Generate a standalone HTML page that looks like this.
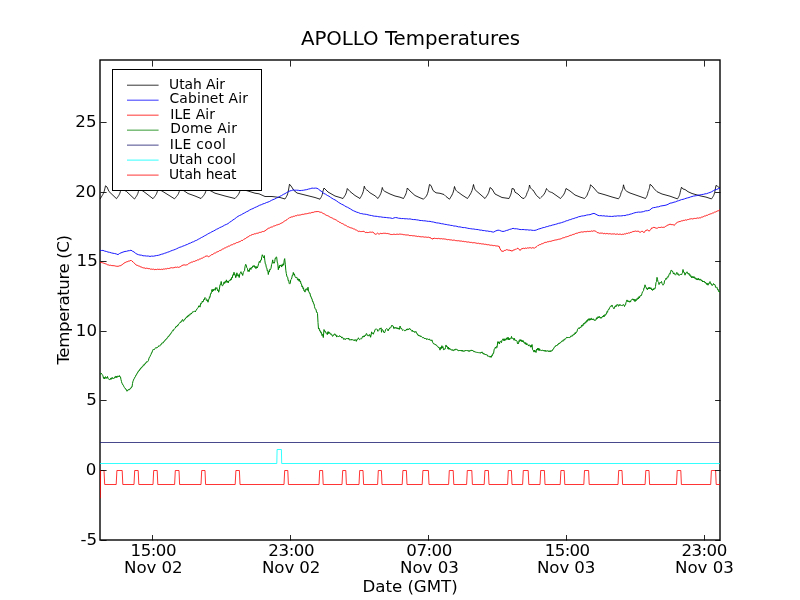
<!DOCTYPE html>
<html><head><meta charset="utf-8"><title>APOLLO Temperatures</title>
<style>html,body{margin:0;padding:0;background:#fff;width:800px;height:600px;overflow:hidden}svg{display:block}</style>
</head><body>
<svg width="800" height="600" viewBox="0 0 800 600">
<rect x="0" y="0" width="800" height="600" fill="#ffffff"/>
<defs><clipPath id="ax"><rect x="100" y="60" width="620" height="480"/></clipPath></defs>
<rect x="100" y="60" width="620" height="480" fill="none" stroke="#000" stroke-width="1.39"/>
<g clip-path="url(#ax)" fill="none" stroke-width="0.8" stroke-linejoin="round" stroke-linecap="butt">
<polyline stroke="#000000" stroke-width="0.85" points="100,199 100.69,197.94 101.38,196.89 102.06,195.77 102.75,194.64 103.44,193.24 104.12,191.52 104.81,188.94 105.5,185.8 107,187 109,191.5 116.5,198.7 117.06,197.92 117.62,197.15 118.19,196.32 118.75,195.5 119.31,194.47 119.88,193.2 120.44,191.3 121,189 124,190 126.5,191.5 134.5,199 135.06,198.2 135.62,197.4 136.19,196.55 136.75,195.7 137.31,194.64 137.88,193.33 138.44,191.38 139,189 143,191 153,198.7 153.62,197.92 154.25,197.15 154.88,196.32 155.5,195.5 156.12,194.47 156.75,193.2 157.38,191.3 158,189 162,191 174.5,198.8 175.19,198.02 175.88,197.23 176.56,196.4 177.25,195.57 177.94,194.52 178.62,193.25 179.31,191.33 180,189 184,190.8 188,193.5 195,196 201,198.5 201.69,197.74 202.38,196.98 203.06,196.17 203.75,195.37 204.44,194.36 205.12,193.12 205.81,191.26 206.5,189 211,191 215,193.2 225,196 235,198.5 235.69,197.74 236.38,196.98 237.06,196.17 237.75,195.37 238.44,194.36 239.12,193.12 239.81,191.26 240.5,189 248,191 255,193.2 259,193.8 265,196.5 272,196.5 280,197.5 285,199 285.44,198.28 285.88,197.56 286.31,196.79 286.75,196.03 287.19,195.07 287.62,193.9 288.06,192.14 288.5,190 289.5,184.2 291,186 294,190.5 297,193 305,195 315,197.5 320,199.2 320.38,198.54 320.75,197.89 321.12,197.19 321.5,196.49 321.88,195.62 322.25,194.55 322.62,192.95 323,191 324,188 328,192 335,196 340,197.5 343,198.5 343.54,197.7 344.07,196.9 344.61,196.05 345.15,195.2 345.69,194.14 346.23,192.83 346.76,190.88 347.3,188.5 350,191.5 355,195.5 360,198.5 360.54,197.52 361.07,196.53 361.61,195.49 362.15,194.44 362.69,193.13 363.23,191.53 363.76,189.12 364.3,186.2 364.64,187.23 364.98,188.01 365.31,188.6 365.65,189.05 365.99,189.39 366.32,189.65 366.66,189.85 367,190 370,192.8 375,195.8 378,198.5 378.54,197.62 379.07,196.74 379.61,195.81 380.15,194.87 380.69,193.7 381.23,192.27 381.76,190.11 382.3,187.5 382.64,188.58 382.98,189.4 383.31,190.03 383.65,190.5 383.99,190.86 384.32,191.13 384.66,191.34 385,191.5 390,194 395,196 400,197.2 403.5,198.5 403.98,197.66 404.45,196.82 404.93,195.93 405.4,195.03 405.88,193.92 406.35,192.55 406.82,190.49 407.3,188 410,191 415,195.5 420,197.8 423.5,199.2 424.06,198.62 424.62,198.05 425.19,197.44 425.75,196.82 426.31,196.06 426.88,195.12 427.44,193.71 428,192 429.5,184.5 431,185.5 433,190.5 436,192.8 440,193.3 444,194.5 446,196.5 449.5,199.2 450.12,198.18 450.75,197.17 451.38,196.09 452,195.01 452.62,193.66 453.25,192 453.88,189.52 454.5,186.5 454.94,187.99 455.38,189.12 455.81,189.97 456.25,190.63 456.69,191.12 457.12,191.5 457.56,191.78 458,192 462,195 467.5,198.5 468.25,197.38 469,196.26 469.75,195.07 470.5,193.88 471.25,192.39 472,190.57 472.75,187.82 473.5,184.5 473.94,186.39 474.38,187.83 474.81,188.92 475.25,189.75 475.69,190.38 476.12,190.86 476.56,191.22 477,191.5 481,195 485,198.5 485.62,197.62 486.25,196.74 486.88,195.81 487.5,194.87 488.12,193.7 488.75,192.27 489.38,190.11 490,187.5 492,189 495,194 502,197.5 509,198.5 509.38,197.7 509.75,196.9 510.12,196.05 510.5,195.2 510.88,194.14 511.25,192.83 511.62,190.88 512,188.5 514,189 515,192.2 518,194 522,198 524,198.5 524.38,198.06 524.75,197.62 525.12,197.15 525.5,196.69 525.88,196.1 526.25,195.38 526.62,194.31 527,193 527.31,192.36 527.62,191.72 527.94,191.04 528.25,190.36 528.56,189.51 528.88,188.47 529.19,186.9 529.5,185 529.94,186.35 530.38,187.38 530.81,188.16 531.25,188.75 531.69,189.2 532.12,189.54 532.56,189.8 533,190 536.5,195.5 540,198.5 540.81,197.7 541.62,196.9 542.44,196.05 543.25,195.2 544.06,194.14 544.88,192.83 545.69,190.88 546.5,188.5 547.19,189.58 547.88,190.4 548.56,191.03 549.25,191.5 549.94,191.86 550.62,192.13 551.31,192.34 552,192.5 557,196 560.5,198.5 561.19,197.7 561.88,196.9 562.56,196.05 563.25,195.2 563.94,194.14 564.62,192.83 565.31,190.88 566,188.5 570,191 575,195 580,197 584.5,198.5 584.94,198.02 585.38,197.54 585.81,197.03 586.25,196.52 586.69,195.88 587.12,195.1 587.56,193.93 588,192.5 588.31,191.88 588.62,191.27 588.94,190.61 589.25,189.96 589.56,189.14 589.88,188.14 590.19,186.63 590.5,184.8 593,187 598,192.8 605,194.8 612,197 618.5,198.8 618.81,198.34 619.12,197.87 619.44,197.38 619.75,196.89 620.06,196.27 620.38,195.51 620.69,194.38 621,193 621.31,192.34 621.62,191.69 621.94,190.99 622.25,190.29 622.56,189.42 622.88,188.35 623.19,186.75 623.5,184.8 623.94,186.61 624.38,187.99 624.81,189.03 625.25,189.83 625.69,190.43 626.12,190.89 626.56,191.24 627,191.5 630,193 640,196.5 645.5,198.5 645.81,197.98 646.12,197.46 646.44,196.91 646.75,196.35 647.06,195.66 647.38,194.82 647.69,193.54 648,192 648.25,191.38 648.5,190.77 648.75,190.11 649,189.46 649.25,188.64 649.5,187.64 649.75,186.13 650,184.3 652,185.9 654,188.6 657,191.7 662,194 670,196.2 677.5,198.9 677.88,198.25 678.25,197.6 678.62,196.92 679,196.23 679.38,195.37 679.75,194.31 680.12,192.72 680.5,190.8 681.5,187.2 683,189 685,189.5 688,191.7 692,193.5 700,195.8 706,197.1 711.5,198.9 711.94,198.25 712.38,197.6 712.81,196.92 713.25,196.23 713.69,195.37 714.12,194.31 714.56,192.72 715,190.8 716,185.4 717.5,186.3 720,188.3"/>
<polyline stroke="#0000ff" stroke-width="0.9" points="100,250.3 101.5,250.48 103,250.39 104.67,251.1 106.33,251.45 108,252.05 109.67,252.35 111.33,252.89 113,253.26 114.67,253.52 116.33,253.96 118,254.65 119.5,253.51 121,252.86 123,252.07 125,251.44 126.5,251.31 128,250.8 129.5,250.65 131,250.18 132.5,251.23 134,251.91 135.5,253.23 137,254.13 138.5,254.68 140,255.07 141.5,255.18 143,255.79 144.75,255.79 146.5,256.05 148.25,256.02 150,256.44 151.67,256.08 153.33,256.21 155,255.87 156.67,255.54 158.33,255.32 160,254.79 161.53,254.24 163.07,253.92 164.6,253.25 166.13,252.83 167.67,252.18 169.2,251.76 170.72,251 172.23,250.41 173.75,249.95 175.27,249.36 176.78,248.69 178.3,247.92 179.83,247.24 181.37,246.83 182.9,246.08 184.43,245.64 185.97,244.87 187.5,244.38 189.03,243.47 190.57,243.03 192.1,242.13 193.63,241.71 195.17,240.75 196.7,240.29 198.23,239.29 199.77,238.55 201.3,237.58 202.83,236.88 204.37,235.9 205.9,235.16 207.42,234.22 208.93,233.32 210.45,232.67 211.97,231.68 213.48,231.07 215,230.19 216.53,229.28 218.07,228.65 219.6,227.67 221.28,226.99 222.96,226.18 224.64,225.12 226.32,224.46 228,223.64 229.67,222.26 231.33,221.23 233,219.9 234.67,218.91 236.33,217.54 238,216.37 239.67,215.45 241.33,214.74 243,213.67 244.67,212.88 246.33,211.84 248,211.15 249.67,210.02 251.33,209.19 253,208.57 254.67,207.6 256.33,206.94 258,206.13 259.67,205.22 261.33,204.72 263,203.86 264.67,203.46 266.33,202.6 268,202.08 269.67,201.4 271.33,200.41 273,199.63 274.67,199.06 276.33,198.11 278,197.44 279.75,196.35 281.5,195.58 283.25,194.44 285,193.65 286.67,192.57 288.33,191.74 290,190.87 291.5,190.57 293,189.93 294.75,190.2 296.5,190.19 298.25,190.29 300,190.61 301.67,190.42 303.33,190.26 305,189.9 306.75,189.64 308.5,189.05 310.25,188.71 312,188.08 313.67,188.28 315.33,188.1 317,188.26 318.5,189.18 320,190.43 321.9,191.7 323.8,193.44 325.53,194.19 327.27,195.4 329,196.21 330.5,197.32 332,198.27 333.5,199.22 335,199.9 336.67,200.97 338.33,202.26 340,203.25 341.5,204.17 343,204.81 344.5,205.7 346,206.69 347.5,207.26 349,208.15 350.5,208.95 352,210.01 353.5,210.74 355,211.4 356.77,212.2 358.53,212.65 360.3,213.5 361.8,213.63 363.3,214.06 364.8,214.17 366.3,214.37 368.03,214.81 369.77,215.28 371.5,215.53 373,215.93 374.5,216.21 376,216.26 377.5,216.46 379,216.85 380.5,216.82 382,217.13 383.5,217.33 385,217.41 386.5,217.55 388,217.82 389.5,217.85 391,218.1 392.5,218.5 394,217.89 395.5,217.55 397,217.72 398.5,218.22 400,218.3 401.67,218.58 403.33,218.53 405,218.82 406.67,218.74 408.33,219.04 410,218.87 411.67,219.33 413.33,219.55 415,219.58 416.67,219.85 418.33,220.05 420,220.49 421.67,220.52 423.33,220.79 425,220.83 426.67,221.12 428.33,221.37 430,221.33 431.67,221.81 433.33,222.01 435,222.47 436.67,222.88 438.33,223 440,223.32 441.54,223.72 443.08,223.86 444.62,224.3 446.15,224.46 447.69,224.84 449.23,225.01 450.77,225.42 452.31,225.51 453.85,226.02 455.38,226.05 456.92,226.36 458.46,226.87 460,226.88 461.54,227.28 463.08,227.6 464.62,227.57 466.15,227.86 467.69,228.25 469.23,228.51 470.77,228.72 472.31,228.96 473.85,229.01 475.38,229.37 476.92,229.48 478.46,229.67 480,230.11 481.51,230.13 483.02,230.57 484.53,230.57 486.04,231 487.56,230.99 489.07,231.39 490.58,231.43 492.09,231.9 493.6,232.1 495.8,230.9 498,230.13 499.67,230.42 501.33,231.13 503,231.48 504.67,231.17 506.33,230.48 508,230.12 509.67,229.35 511.33,229.03 513,228.31 514.75,228.79 516.5,228.75 518.25,229.1 520,229.53 521.5,229.59 523,229.53 524.5,229.63 526,229.86 527.5,229.75 529,230.13 530.5,229.96 532,230.27 533.5,230.4 535,230.35 536.67,229.89 538.33,229.14 540,228.68 541.54,228.21 543.08,227.61 544.62,227.45 546.15,226.74 547.69,226.53 549.23,225.87 550.77,225.67 552.31,225.08 553.85,224.78 555.38,224.37 556.92,223.93 558.46,223.33 560,223.08 561.54,222.63 563.08,222.1 564.62,221.62 566.15,220.85 567.69,220.58 569.23,219.83 570.77,219.52 572.31,218.8 573.85,218.53 575.38,217.85 576.92,217.56 578.46,216.79 580,216.5 581.67,216.04 583.33,215.87 585,215.6 586.67,215.06 588.33,214.81 590,214.67 592,213.87 594,213.37 596,214.3 598,215.38 599.5,215.7 601,215.64 602.5,215.89 604,215.8 605.5,216.16 607,216.04 608.5,216.36 610,216.31 611.5,216.46 613,216.36 614.5,216.08 616,216.18 617.5,215.84 619,215.95 620.5,215.9 622,215.83 623.5,215.53 625,215.6 626.67,214.96 628.33,214.81 630,214.21 631.67,213.85 633.35,213.23 635.03,212.69 636.7,212.36 638.47,212.09 640.23,212.16 642,211.9 643.65,211.59 645.3,210.89 647.5,210.73 649.7,210.15 652,208.14 653.65,207.58 655.3,207.45 657,206.92 658.7,206.8 660.35,206.11 662,205.82 664,205.52 666,205.12 668,204.37 670,203.17 672,202.9 674,202.15 675.5,201.88 677,201.13 678.5,200.73 680,200.2 681.5,199.6 683,199.35 684.5,198.87 686,198.31 687.5,197.89 689,197.57 690.5,196.95 692,196.54 693.5,196.09 695,195.86 696.67,195.62 698.33,195.09 700,194.98 701.67,194.54 703.33,194.37 705,193.85 706.67,193.68 708.33,192.98 710,192.47 711.67,191.75 713.33,190.72 715,189.83 716.67,189.47 718.33,188.68 720,188.2"/>
<polyline stroke="#ff0000" stroke-width="0.9" points="100,262.3 100.83,262.61 101.67,262.57 102.5,262.78 103.33,263.05 104.17,263.44 105,263.36 105.75,263.97 106.5,264.15 107.25,264.67 108,264.93 108.83,264.99 109.67,265.36 110.5,265.24 111.33,265.51 112.17,265.65 113,265.55 113.83,265.72 114.67,265.8 115.5,266.07 116.33,266.22 117.17,266.34 118,266.22 118.75,266.16 119.5,265.82 120.25,265.75 121,265.42 121.8,265.03 122.6,264.22 123.4,263.82 124.2,262.95 125,262.62 125.75,262.27 126.5,261.87 127.25,261.72 128,261.34 128.75,261.06 129.5,260.99 130.25,260.66 131,260.2 132,261.21 133,261.87 133.75,262.65 134.5,263.35 135.25,264.21 136,264.88 136.83,265.27 137.67,265.46 138.5,265.95 139.33,266.15 140.17,266.53 141,267.25 141.8,267.09 142.6,267.66 143.4,267.87 144.2,267.88 145,268.12 145.77,268.52 146.54,268.2 147.31,268.31 148.08,268.69 148.85,268.6 149.62,268.67 150.38,269.15 151.15,269.25 151.92,268.94 152.69,269.36 153.46,269.15 154.23,269.54 155,269.74 155.8,269.32 156.6,269.55 157.4,269.23 158.2,269.28 159,269.61 159.8,269.19 160.6,269.5 161.4,269.22 162.2,269.53 163,269.17 163.78,268.97 164.55,269.1 165.32,268.77 166.1,268.91 166.88,268.8 167.65,268.34 168.42,268.54 169.2,268.34 170.01,268.32 170.82,267.73 171.63,267.7 172.44,267.86 173.26,267.88 174.07,267.34 174.88,267.63 175.69,267.1 176.5,267.39 177.43,267.02 178.37,267.39 179.3,267.12 180.23,266.8 181.15,265.99 182.07,265.74 183,264.84 183.9,265.08 184.8,264.87 185.7,265.11 186.6,264.84 187.53,264.61 188.45,263.73 189.38,263.2 190.3,262.82 191.1,262.32 191.9,261.98 192.7,262.02 193.5,261.38 194.3,261.44 195.1,261.19 195.9,260.47 196.7,260.54 197.47,259.9 198.23,260.01 199,259.63 199.77,258.9 200.53,258.91 201.3,258.32 202.09,258.3 202.87,257.87 203.66,257.23 204.44,257.2 205.23,256.33 206.01,256.01 206.8,256.05 207.7,256.1 208.6,256.95 209.53,255.97 210.47,255.6 211.4,254.75 212.21,254.7 213.02,254.16 213.83,253.54 214.64,253.04 215.46,252.97 216.27,252.19 217.08,252.2 217.89,251.42 218.7,251.41 219.47,250.6 220.25,250.59 221.02,249.9 221.8,249.79 222.57,249.04 223.35,248.93 224.12,248.3 224.9,247.84 225.68,247.75 226.45,247.13 227.22,247.09 228,246.34 228.78,246.02 229.56,246.06 230.33,245.37 231.11,245.08 231.89,244.64 232.67,244.63 233.44,243.93 234.22,243.99 235,243.34 235.8,243.25 236.6,242.58 237.4,242.57 238.2,242.31 239,241.67 239.8,241.65 240.6,241.25 241.4,240.48 242.2,240.54 243,240.2 243.8,239.37 244.6,238.9 245.4,238.65 246.2,237.82 247,237.59 247.8,236.91 248.6,236.68 249.4,235.77 250.2,235.65 251,234.82 251.78,235.02 252.56,234.47 253.33,234.43 254.11,233.95 254.89,233.72 255.67,233.79 256.44,233.32 257.22,233.39 258,232.88 258.78,232.98 259.56,232.36 260.33,232.42 261.11,232.02 261.89,232.07 262.67,231.44 263.44,231.58 264.22,231.14 265,231.08 265.75,230.13 266.5,229.86 267.25,228.88 268,228.72 268.77,228.01 269.54,228 270.31,227.39 271.08,227.41 271.85,226.74 272.62,226.87 273.38,226.12 274.15,226.22 274.92,225.53 275.69,225.52 276.46,225 277.23,225.04 278,224.29 278.75,224.41 279.5,224.18 280.25,223.59 281,223.6 281.75,222.86 282.5,222.73 283.25,221.88 284,221.6 284.75,220.88 285.5,220.58 286.25,220.14 287,219.7 287.75,218.84 288.5,218.4 289.25,218.13 290,217.3 290.75,217.37 291.5,216.91 292.25,216.93 293,216.69 293.75,216.16 294.5,216.28 295.25,215.73 296,215.79 296.75,215.65 297.5,215.09 298.25,215.29 299,214.92 299.75,215.1 300.5,214.93 301.25,214.59 302,214.72 302.75,214.21 303.5,214.36 304.25,214.02 305,214.1 305.78,213.74 306.56,213.75 307.33,213.62 308.11,213.26 308.89,213.29 309.67,212.99 310.44,213.1 311.22,212.58 312,212.66 312.83,212.27 313.67,212.31 314.5,211.84 315.33,211.7 316.17,211.78 317,211.32 317.75,211.64 318.5,211.56 319.25,211.98 320,211.97 320.75,212.35 321.5,212.31 322.25,212.99 323,213.18 323.75,213.81 324.5,214.01 325.25,214.73 326,214.81 326.75,215.54 327.5,215.63 328.25,215.97 329,216.34 329.75,216.97 330.5,217.36 331.25,217.56 332,218.1 332.75,218.28 333.5,218.92 334.25,219.06 335,219.58 335.83,219.8 336.67,220.32 337.5,221.07 338.33,221.33 339.17,222.06 340,222.56 340.75,222.68 341.5,223.38 342.25,223.44 343,224.12 343.75,224.26 344.5,224.98 345.25,225.1 346,225.55 346.75,225.95 347.5,226.67 348.25,226.72 349,227.01 349.75,227.49 350.5,227.76 351.25,227.84 352,228.36 352.75,228.35 353.5,228.91 354.26,228.97 355.01,229.36 355.77,230.03 356.53,230.11 357.29,230.72 358.04,230.95 358.8,231.59 359.67,231.23 360.53,231.56 361.4,231.55 362.27,231.51 363.13,231.27 364,231.49 364.75,231.85 365.5,232.6 366.25,232.33 367,232.54 367.75,232.55 368.5,232.5 369.25,232.16 370,232.37 370.75,232.06 371.5,232.28 372.25,232.07 373,232.24 373.77,232.71 374.53,233.82 375.3,234.24 376.4,234.02 377.5,233.11 378.25,233.69 379,234.24 379.75,233.99 380.5,233.21 381.25,233.6 382,233.28 382.75,233.51 383.5,233.25 384.25,233.21 385,233.51 385.75,233.24 386.5,233.56 387.25,233.38 388,233.84 388.75,233.75 389.5,233.98 390.25,234.4 391,234.33 391.75,234.56 392.5,234.53 393.25,234.23 394,234.52 394.75,234.22 395.5,234.5 396.25,234.22 397,234.41 397.75,234.16 398.5,234.38 399.25,234.06 400,234.27 400.77,234.12 401.54,234.28 402.31,234.33 403.08,234.48 403.85,234.84 404.62,234.68 405.38,234.93 406.15,234.86 406.92,235.11 407.69,234.96 408.46,235.04 409.23,235.5 410,235.55 410.77,235.57 411.54,235.52 412.31,235.79 413.08,235.61 413.85,235.93 414.62,235.82 415.38,236.12 416.15,236.03 416.92,236.36 417.69,236.52 418.46,236.25 419.23,236.61 420,236.47 420.77,236.83 421.54,236.85 422.31,236.68 423.08,237.05 423.85,236.84 424.62,237.19 425.38,237.02 426.15,237.25 426.92,237.15 427.69,237.37 428.46,237.16 429.23,237.54 430,237.57 431,238.08 432,239.17 433,238.59 434,238.42 434.75,238.21 435.5,238.47 436.25,238.53 437,238.38 437.75,238.68 438.5,238.39 439.25,238.68 440,238.48 440.77,238.88 441.54,238.64 442.31,238.94 443.08,238.85 443.85,238.89 444.62,239.04 445.38,239.08 446.15,239.26 446.92,239.55 447.69,239.72 448.46,239.5 449.23,239.83 450,239.65 450.77,239.98 451.54,239.91 452.31,240.26 453.08,240.26 453.85,240.09 454.62,240.21 455.38,240.54 456.15,240.73 456.92,240.54 457.69,240.82 458.46,240.7 459.23,240.99 460,240.8 460.77,241.17 461.54,241.05 462.31,241.41 463.08,241.26 463.85,241.41 464.62,241.7 465.38,241.54 466.15,241.93 466.92,241.84 467.69,242.12 468.46,241.95 469.23,242.27 470,242.23 470.77,242.51 471.54,242.4 472.31,242.75 473.08,242.81 473.85,242.64 474.62,242.71 475.38,242.9 476.15,243.29 476.92,243.08 477.69,243.43 478.46,243.21 479.23,243.64 480,243.68 480.76,243.58 481.52,243.91 482.28,243.86 483.04,244.14 483.8,243.94 484.56,244.35 485.32,244.19 486.08,244.64 486.84,244.46 487.6,244.77 488.36,244.61 489.12,245.08 489.88,244.92 490.64,245.28 491.4,245.16 492.16,245.5 492.92,245.25 493.68,245.69 494.44,245.49 495.2,245.91 495.96,245.68 496.72,246.04 497.48,246.01 498.24,246.32 499,246.12 500,248.65 501,250.53 502,251.3 503,251.15 503.88,251.17 504.75,250.27 505.62,250.3 506.5,249.65 507.38,249.79 508.25,250.21 509.12,250 510,250.53 511,250.53 512,251.23 513,250.29 514,249.88 514.8,249.85 515.6,249.04 516.4,249.21 517.2,248.39 518,248.15 519,249.54 520,250.22 521,249.72 522,248.21 522.75,248.7 523.5,248.29 524.25,248.62 525,248.2 525.83,248.05 526.67,248.38 527.5,247.87 528.33,248.08 529.17,247.64 530,248.07 530.75,247.68 531.5,248.15 532.25,247.62 533,248.05 533.75,247.83 534.5,248.21 535.38,247.3 536.25,246.94 537.12,246.25 538,245.33 538.78,245.3 539.56,244.64 540.33,244.62 541.11,244.03 541.89,243.71 542.67,243.63 543.44,243.28 544.22,242.64 545,242.67 545.75,242.25 546.5,242.34 547.25,241.85 548,241.66 548.75,241.72 549.5,241.35 550.25,241.44 551,241.02 551.75,241.08 552.5,240.68 553.25,240.5 554,240.47 554.75,240.08 555.5,239.97 556.25,239.95 557,239.6 557.75,239.59 558.5,239.27 559.25,239.28 560,238.85 560.77,238.92 561.54,238.58 562.31,238.03 563.08,238.07 563.85,237.5 564.62,237.58 565.38,237.01 566.15,237.1 566.92,236.47 567.69,236.5 568.46,236.28 569.23,235.7 570,235.76 570.77,235.17 571.54,235.21 572.31,234.64 573.08,234.73 573.85,234.16 574.62,234.11 575.38,233.57 576.15,233.41 576.92,233.1 577.69,233.13 578.46,232.62 579.23,232.61 580,232.04 580.75,232.25 581.5,231.9 582.25,232.13 583,231.8 583.75,231.92 584.5,231.6 585.25,231.78 586,231.47 586.75,231.69 587.5,231.33 588.25,231.56 589,231.19 589.75,231.44 590.5,231.4 591.25,230.93 592,231.16 592.75,231.26 593.5,230.85 594.25,230.96 595,230.71 595.75,231.43 596.5,231.77 597.25,232.59 598,232.76 598.75,232.86 599.5,233.26 600.25,233.02 601,233.38 601.75,233.08 602.5,233.14 603.25,233.62 604,233.66 604.75,233.32 605.5,233.79 606.25,233.47 607,233.81 607.75,233.54 608.5,233.9 609.25,233.62 610,233.99 610.76,233.79 611.53,234.08 612.29,233.89 613.06,234.11 613.82,233.88 614.59,233.86 615.35,234.34 616.12,234.03 616.88,234.25 617.65,233.99 618.41,234.44 619.18,234.02 619.94,234.45 620.71,234.16 621.47,234.56 622.24,234.24 623,234.31 623.78,234.32 624.56,233.84 625.33,234.04 626.11,233.51 626.89,233.24 627.67,233.46 628.44,232.91 629.22,233.08 630,232.89 630.8,232.26 631.6,232.29 632.4,231.74 633.2,231.67 634,231.18 634.78,231.39 635.57,231.06 636.35,231.39 637.13,231.06 637.92,231.43 638.7,231.11 639.7,232.39 640.57,232.1 641.43,231.48 642.3,231.21 643.15,232.12 644,232.48 645,231.64 646,230.08 646.85,230.3 647.7,229.82 648.5,230.8 649.3,231.15 650.1,230.07 650.9,229.28 651.7,227.89 652.47,227.97 653.23,227.44 654,227.53 654.9,227.54 655.8,228.09 656.7,228.22 657.57,228.07 658.43,227.44 659.3,227.52 660.07,227.48 660.84,227.41 661.61,227.17 662.39,227.39 663.16,227.44 663.93,227.06 664.7,227.16 665.57,226.38 666.43,226.17 667.3,225.14 668.2,225.07 669.1,224.4 670,224.42 670.9,224.28 671.8,224.72 672.7,224.62 673.5,224.81 674.3,225.46 675.1,224.27 675.9,223.36 676.7,222.83 677.53,222.25 678.35,221.92 679.17,221.77 680,221.22 680.77,221.38 681.54,220.85 682.31,220.87 683.08,220.51 683.85,220.32 684.62,220.37 685.38,219.87 686.15,220.18 686.92,219.99 687.69,219.5 688.46,219.52 689.23,219.07 690,219.18 690.77,218.78 691.54,218.7 692.31,219.03 693.08,218.56 693.85,218.72 694.62,218.38 695.38,218.5 696.15,218.18 696.92,218.44 697.69,217.88 698.46,218.18 699.23,217.76 700,217.99 700.77,217.74 701.54,217.14 702.31,217.15 703.08,216.62 703.85,216.53 704.62,215.95 705.38,215.99 706.15,215.47 706.92,215.21 707.69,215.23 708.46,214.59 709.23,214.29 710,214.29 710.77,213.72 711.54,213.65 712.31,213.1 713.08,213.07 713.85,212.71 714.62,212.08 715.38,212.07 716.15,211.46 716.92,211.48 717.69,210.82 718.46,210.76 719.23,210.09 720,210"/>
<polyline stroke="#008000" stroke-width="1.0" points="100.2,374 100.73,374.29 101.27,373.23 101.8,374.26 102.37,374.62 102.93,375.77 103.5,378.4 104,377.1 104.5,378.97 105,377.13 105.5,376.7 106,378.49 106.5,377.55 107,378.26 107.5,376.48 108,378.45 108.5,378.87 109,379.09 109.5,379.55 110,379.69 110.5,378.38 111,379.48 111.5,377.75 112,378.82 112.5,377.56 113,378.5 113.5,378.38 114,378.31 114.5,378.11 115,376.52 115.5,376.41 116,377.89 116.5,376.29 117,377.45 117.5,376.08 118,376.44 118.5,376.12 119,376.99 119.5,375.6 120,376.96 120.5,377.03 121,379.66 121.5,381.58 122,383.56 122.5,383.79 123,385.22 123.5,385.49 124,386.86 124.5,387.64 125,388.53 125.5,388.44 126,389.81 126.5,389.77 127,391.28 127.5,390.23 128,390.5 128.5,389.51 129,390.08 129.5,389.17 130,389.36 130.5,388.2 131,388.32 131.5,386.94 132,387.1 132.5,383.59 133,381.19 133.5,380.13 134,378.62 134.5,378.35 135,376.82 135.5,376.56 136,374.84 136.5,374.85 137,373.21 137.5,373.13 138,371.44 138.5,371.58 139,370.2 139.5,370.46 140,368.8 140.5,369.07 141,367.61 141.5,367.84 142,366.58 142.5,366.91 143,366.06 143.5,364.78 144,365.32 144.5,364.07 145,364.31 145.5,362.97 146,363.16 146.5,361.73 147,361.98 147.5,361.85 148,361.16 148.5,360.29 149,358.15 149.5,357.1 150,356.78 150.5,355.12 151,354.75 151.5,352.72 152,352.72 152.5,350.51 153,349.44 153.5,349.85 154,349.07 154.5,349.44 155,348.29 155.5,347.86 156.03,348.27 156.55,348.06 157.07,347.03 157.6,347.45 158.12,346.99 158.65,345.86 159.17,345.59 159.7,346.24 160.2,345.5 160.7,344.51 161.2,344.66 161.7,343.29 162.2,343.5 162.7,342.57 163.2,342.89 163.7,342.02 164.2,340.99 164.7,341.13 165.2,339.79 165.7,339.9 166.2,338.83 166.7,338.96 167.2,337.69 167.7,337.66 168.2,336.23 168.7,336.68 169.2,335.22 169.7,335.39 170.2,333.97 170.7,334.03 171.2,332.58 171.7,332.53 172.2,331.29 172.7,330.41 173.2,330.87 173.7,329.35 174.2,329.2 174.7,328.76 175.2,328.31 175.7,326.81 176.2,327.02 176.7,326.12 177.2,326.31 177.7,325.08 178.2,325.35 178.7,324.11 179.2,323.57 179.7,322.84 180.2,322.12 180.7,322.62 181.2,321 181.7,321.38 182.2,319.81 182.7,319.49 183.3,321.42 183.87,320.62 184.43,319.38 185,319.5 185.57,318 186.13,317.99 186.7,316.79 187.21,317.22 187.72,315.77 188.23,316.37 188.74,315.07 189.26,315.55 189.77,314.24 190.28,314.65 190.79,313.5 191.3,314.07 191.8,312.84 192.3,312.76 192.8,311.59 193.3,311.77 193.8,311.7 194.3,311.15 194.8,311.17 195.3,311.97 195.87,310.42 196.43,310.15 197,308.68 197.57,308.34 198.13,307.58 198.7,305.92 199.35,305.77 200,307.13 200.65,303.33 201.3,303.76 201.8,302.97 202.3,301 202.8,302.05 203.3,301.67 203.8,299.39 204.3,299.96 204.8,297.68 205.3,297.68 205.84,298.22 206.38,300.55 206.92,299.63 207.46,300.04 208,302.22 208.5,299.58 209,299.44 209.5,296.74 210,297.26 210.5,293.79 211,293.99 211.5,291.53 212,289.48 212.54,291.75 213.08,289.21 213.62,290.76 214.16,288.91 214.7,289.07 215.23,290.3 215.77,287.49 216.3,288.54 216.9,287.66 217.5,290.61 218.1,289.72 218.7,292.25 219.35,289.74 220,284.56 220.6,284.79 221.2,281.47 221.9,285.43 222.6,285.83 223.5,284.05 224.08,281.94 224.66,283.5 225.24,281.23 225.82,282.46 226.4,279.85 227,282.26 227.6,280.94 228.2,282.98 228.78,280.87 229.36,280.57 229.94,281.02 230.52,278.92 231.1,280.06 231.68,277.45 232.26,278.07 232.84,274.73 233.42,275.13 234,272.23 234.57,274.84 235.13,274.33 235.7,277.72 236.3,276.4 236.9,272.81 237.47,275.39 238.05,276.16 238.62,274.7 239.2,277.54 239.8,273.86 240.4,272.89 240.97,271.68 241.55,273.77 242.12,273.43 242.7,275.48 243.3,272.59 243.9,271.3 244.5,270.68 245.1,266.2 245.7,264.3 246.25,265.17 246.8,267.72 247.4,268.34 248,271.5 248.6,270.07 249.17,271.6 249.73,268.64 250.3,267.83 250.9,269.58 251.5,267.51 252.1,267.96 252.8,265.96 253.5,266.53 254.03,265.3 254.55,267.32 255.07,266.15 255.6,268.35 256.18,268.57 256.75,266.52 257.32,267.91 257.9,266.31 258.7,263.4 259.35,261.34 260,262.58 260.65,260.09 261.3,260.12 261.8,256.46 262.3,254.74 263,256.5 263.65,257.83 264.3,255.54 264.8,260.21 265.3,263.89 265.8,264.14 266.3,267.59 266.8,267.8 267.3,271.02 267.8,270.53 268.3,274.54 268.84,271.48 269.38,272.03 269.92,269 270.46,269.51 271,268.23 271.57,264.55 272.13,263.18 272.7,259.86 273.2,263.21 273.7,262.42 274.2,263.22 274.7,261.75 275.2,258.23 275.7,258.55 276.2,256.84 276.7,257.21 277.23,262.06 277.77,263.8 278.3,269.76 278.8,266.62 279.3,268.08 279.8,265.16 280.3,266.1 281,264.86 281.7,267.05 282.2,264.54 282.7,265.98 283.2,263.69 283.7,265.11 284.2,260.14 284.7,258.61 285.3,264.27 285.8,270.18 286.3,273.49 287,276.89 287.7,277.24 288.2,280.71 288.7,280.29 289.2,283.41 289.7,284.09 290.23,283.23 290.77,279.78 291.3,279.3 291.8,277.94 292.3,275.23 292.8,275.59 293.3,272.42 293.84,274.69 294.38,273.84 294.92,276.23 295.46,277.23 296,277.97 296.5,277.33 297,277.4 297.5,279.86 298,279.9 298.5,278.8 299,281.15 299.5,279.27 300,281.68 300.5,281 301,284 301.5,284.09 302,286.86 302.5,285.92 303,288.58 303.5,287.8 304,290.98 304.5,290.71 305,292.12 305.5,289.27 306,289.09 306.5,288.74 307,290.45 307.5,290 308,287.21 308.5,291.07 309,291.91 309.5,293.28 310,293.15 310.5,296.31 311,296.27 311.5,298.59 312,298.5 312.5,301.52 313,301.22 313.5,303.71 314,303.67 314.5,306.66 315,308.34 315.5,309.21 316,309.24 316.5,312.21 317,312.05 317.5,313.55 318,322.45 318.5,328.96 319.05,328.18 319.6,330.81 320.15,330.42 320.7,332.74 321.35,332.21 322,335.58 322.65,334.37 323.3,337.56 324,329.52 324.55,331.3 325.1,330.96 325.65,332.61 326.2,333.34 326.75,332.7 327.3,334.66 327.8,331.78 328.3,331.68 328.85,333.81 329.4,332.3 329.95,332.68 330.5,334.33 331.05,333.82 331.6,334.1 332.15,335.89 332.7,336.4 333.27,334.88 333.85,335.34 334.43,334.03 335,333.75 335.57,335.4 336.13,334.94 336.7,337.08 337.27,335.73 337.85,336.47 338.43,336.55 339,336.28 339.57,335.54 340.15,337.01 340.73,336.26 341.3,337 341.87,338.08 342.43,337.23 343,337.7 343.57,339.39 344.13,338.51 344.7,338.88 345.2,339.82 345.7,339.22 346.2,338.15 346.7,338.68 347.2,338.68 347.7,338.15 348.2,339.13 348.7,337.99 349.35,340.05 350,339.6 350.5,339.6 351,340.27 351.5,339.09 352,339.89 352.5,339.72 353.04,339.91 353.59,340.36 354.13,339.59 354.67,340.75 355.21,339.91 355.76,339.7 356.3,341.38 356.82,339.52 357.35,339.81 357.88,339.12 358.4,337.78 359.03,339.17 359.67,339.65 360.3,339.23 360.85,338.44 361.4,338.89 361.95,338.19 362.5,336.48 363.13,337.13 363.77,335.82 364.4,336.8 365.03,335.08 365.67,335.54 366.3,333.53 366.82,333.76 367.35,335.63 367.88,335.56 368.4,335.25 369.03,336.19 369.67,334.47 370.3,335.25 370.6,337.28 371.1,335.17 371.6,331.83 372.2,333.48 372.8,333.04 373.4,334.22 373.93,332.18 374.47,331.91 375,329.51 375.57,329.25 376.15,329.25 376.73,328.93 377.3,329.52 377.7,331.17 378.25,331.2 378.8,330.49 379.38,328.99 379.95,328.26 380.53,329.06 381.1,327.82 381.5,332.31 382,330.53 382.5,329.54 383.13,330.39 383.77,332.21 384.4,332.98 385.03,331.77 385.67,329.36 386.3,328.86 386.9,328.53 387.5,329.3 388.1,330.96 388.73,329.08 389.37,329.02 390,327.4 390.5,327.84 391,327.34 391.5,325.6 392,325.05 392.5,325.92 393.15,325.97 393.8,328.61 394.3,328.44 394.8,327.28 395.3,328.21 395.8,327.42 396.3,328.51 396.82,327.62 397.33,328.76 397.85,327.86 398.37,329.15 398.88,328.1 399.4,329.39 400,326.04 400.5,327.17 401,328.71 401.5,328.21 402,329.27 402.5,330.37 403,330.25 403.5,329.71 404,330.35 404.5,330.73 405,330.01 405.5,330.62 406,330.48 406.5,328.96 407,330.1 407.5,328.98 408,328.89 408.5,329.79 409,328.53 409.5,328.48 410,329.55 410.5,329.07 411,330.25 411.5,330.61 412,331.37 412.5,330.2 413,331.66 413.5,331.16 414,331.99 414.5,332.36 415,331.3 415.5,332.22 416,331.61 416.5,333.18 417,333.14 417.5,334.81 418,334.37 418.5,335.87 419,335.16 419.5,336.21 420,335.57 420.5,336.62 421,335.99 421.5,336.36 422,337.29 422.5,337.75 423,337.04 423.5,337.52 424,337.75 424.5,338.9 425,338.21 425.5,339.03 426,338.36 426.5,339.41 427,339.47 427.5,338.78 428,339.03 428.5,339.9 429,339.19 429.5,339.05 430,340.3 430.5,340.34 431,339.82 431.5,340.64 432,339.92 432.5,342.08 433,342.88 433.5,343.76 434,343.45 434.5,344.25 435,343.97 435.5,344.89 436,344.5 436.5,345.49 437,345.5 437.5,346.68 438,347.34 438.5,346.98 439,348.15 439.5,347.8 440,350.15 440.63,347.35 441.27,348.63 441.9,345.69 442.42,347.85 442.94,346.67 443.46,349.7 443.98,349.8 444.5,348.93 445,349.31 445.5,347.69 446,344.96 446.5,346.9 447,346.3 447.5,346.73 448,349.07 448.5,347.18 449,349.44 449.5,348.06 450,349.3 450.5,349.03 451,349.88 451.5,350.2 452,349.51 452.5,350.45 453,349.65 453.5,350.65 454.02,350.67 454.54,349.47 455.06,350.15 455.58,349.09 456.1,349.54 456.73,349.12 457.37,350.22 458,349.89 458.5,350.82 459,350.93 459.5,350.06 460,350.88 460.5,350.37 461,351.06 461.5,350.12 462,351.27 462.5,350.28 463,351.36 463.5,350.73 464,351.62 464.57,350.65 465.15,350.97 465.73,350.15 466.3,350.83 466.8,350.33 467.3,350.96 467.8,350.33 468.3,351.37 468.8,350.53 469.3,351.5 469.8,350.56 470.3,351.15 470.8,350.18 471.35,350.08 471.9,350.96 472.45,350.1 473,351.13 473.5,351.28 474,350.92 474.5,352.12 475,351.62 475.5,352.23 476,351.76 476.54,352.2 477.09,352.81 477.63,352.29 478.17,352.94 478.71,352.58 479.26,352.7 479.8,352.74 480.35,353.32 480.9,352.15 481.45,352.92 482,351.84 482.57,353.33 483.15,352.99 483.73,354.22 484.3,353.62 484.85,354.64 485.4,354.07 485.95,355.01 486.5,354.61 487,355.5 487.5,355.08 488,356.43 488.5,355.9 489,356.69 489.5,356.37 490.07,357.31 490.65,356.12 491.23,357.35 491.8,355.21 492.4,355.73 493,353.24 493.6,353.37 494.2,349.15 494.8,348.69 495.35,347.16 495.9,348.32 496.45,346.49 497,347.43 497.8,341.65 498.35,343.17 498.9,341.72 499.45,344.02 500,341.7 500.5,341.38 501,341.42 501.5,342.66 502,340.04 502.5,339.83 503,338.79 503.5,340.52 504,338.85 504.5,340.68 505,338.77 505.5,340.12 506,340.11 506.5,337.87 507,339.33 507.5,339.2 508,337.06 508.5,339.74 509,338.08 509.5,339.86 510,338.45 510.5,338.76 511,338.24 511.5,336.41 512,338.72 512.5,338.12 513,337.99 513.5,338.44 514,340.25 514.5,338.39 515,340.39 515.5,340.44 516,340.67 516.5,340.44 517,341.1 517.5,343.76 518,343.08 518.5,343.69 519,340.67 519.5,341.47 520,339.51 520.5,341.1 521,339.74 521.5,341.48 522,340.08 522.5,341.91 523,340.76 523.5,340.9 524,343.01 524.5,343.31 525,342.28 525.5,344.22 526,342.83 526.5,344.82 527,343.77 527.5,344.17 528,344.45 528.5,346.05 529,344.97 529.5,345.12 530,345.42 530.5,347.21 531,345.17 531.5,347.09 532,344.5 532.5,349.49 533,350.34 533.5,350.41 534,352.11 534.5,350.06 535,351.72 535.5,350.79 536,352.54 536.5,349.22 537,350.15 537.5,348.31 538,350.03 538.5,348.33 539,350.66 539.5,348.71 540,350.4 540.5,349.84 541,350.68 541.5,350.54 542,350.07 542.5,350.04 543,350.88 543.5,350.25 544,351.14 544.5,350.42 545,351.37 545.5,350.42 546,351.48 546.5,350.68 547,351.33 547.5,350.72 548,350.65 548.5,351.61 549,350.76 549.5,351.65 550,350.77 550.5,351.68 551,350.51 551.5,351.31 552,350.32 552.5,350.41 553,349.02 553.5,348.93 554,347.8 554.5,347.01 555,347 555.5,345.81 556,346.14 556.5,345.2 557,345.73 557.5,344.55 558,344.91 558.5,343.57 559,344.06 559.5,342.96 560,343.41 560.5,342.44 561,342.49 561.5,341.32 562,341.76 562.5,340.65 563,341.22 563.5,339.74 564,340.26 564.5,339.04 565,338.78 565.5,339.14 566,338.15 566.5,337.39 567,337.03 567.5,338.04 568,337.09 568.5,337.61 569,337.08 569.5,337.6 570,337.7 570.5,336.32 571,336.79 571.5,335.79 572,336.35 572.5,334.88 573,335.43 573.5,334.26 574,334.06 574.5,334.49 575,332.78 575.5,333.75 576,331.86 576.5,332.23 577,331.82 577.5,329.29 578,329.08 578.5,328.15 579,327.74 579.5,328.56 580,327.2 580.5,327.89 581,327.27 581.5,325.33 582,326.36 582.5,324.78 583,325.63 583.5,323.56 584,323.3 584.5,324.15 585,322.42 585.5,323.15 586,321.43 586.5,322.21 587,320.15 587.5,321.29 588,319 588.5,318.88 589,320.47 589.5,318.66 590,320.16 590.5,318.65 591,319.99 591.5,318.31 592,318.57 592.5,319.95 593,319.15 593.5,318.92 594,320.29 594.5,320.43 595,319.66 595.5,320.35 596,319.94 596.5,317.78 597,319.03 597.5,317.2 598,316.65 598.5,317.92 599,316.49 599.5,316.54 600,318.16 600.5,318.12 601,316.97 601.5,318.24 602,317.3 602.5,316.29 603,316.94 603.5,315.41 604,316.98 604.5,314.82 605,315.05 605.5,315.34 606,313.67 606.5,313.94 607,311.62 607.5,312.28 608,310.29 608.5,309.35 609,309.63 609.5,307.84 610,307.16 610.5,306.21 611,305.85 611.5,306.27 612,304.98 612.5,306.82 613,307.55 613.5,308.01 614,308.79 614.5,306.85 615,307.26 615.5,305.73 616,306.78 616.5,304.88 617,305.14 617.5,304.53 618,305.79 618.5,306.22 619,304.61 619.5,305.48 620,304.41 620.5,305.36 621,305.32 621.5,305.47 622,305.87 622.5,305.63 623,304.5 623.5,304.82 624,304.69 624.5,306.56 625,305.45 625.5,304.87 626,302.5 626.5,301.31 627,299.92 627.5,301.52 628,300.69 628.5,301.69 629,300.88 629.5,302.23 630,301.29 630.5,302.07 631,300.1 631.5,299.88 632,299.3 632.5,298.95 633,299.98 633.5,298.94 634,300.62 634.5,299.46 635,301.67 635.5,299.59 636,300.92 636.5,299.13 637,298.57 637.5,299.43 638,297.69 638.5,298.87 639,296.61 639.5,297.85 640,295.81 640.5,295.86 641,295.07 641.5,295.4 642,293.29 642.5,291.93 643,291.29 643.5,290.67 644,287.7 644.5,287.72 645,284.8 645.5,286.63 646,286.82 646.5,288.86 647,288.47 647.5,289.73 648,287.94 648.5,288.9 649,287.13 649.5,288.6 650,287.56 650.5,288.98 651,287.79 651.5,289.8 652,288.86 652.5,290.44 653,289.36 653.5,290.02 654,288.17 654.5,289.2 655,288.66 655.5,286.51 656,282.56 656.5,281.69 657,277.35 657.5,279.38 658,281.66 658.5,282.36 659,284.58 659.5,284.05 660,282.34 660.5,282.91 661,282.24 661.5,281.46 662,283.44 662.5,284.2 663,285.22 663.5,284.47 664,284.11 664.5,280.86 665,280.06 665.5,279.67 666,278.21 666.5,279.28 667,277.87 667.5,276.65 668,277.33 668.5,276.57 669,274.66 669.5,273.62 670,274.23 670.5,271.62 671,270.23 671.5,270.35 672,271.55 672.5,271.08 673,272.57 673.5,274.04 674,272.81 674.5,274.15 675,274.65 675.5,275.17 676,274.22 676.5,272.74 677,272.29 677.5,274.44 678,273.83 678.5,273.94 679,275.54 679.5,274.87 680,274.69 680.5,274.45 681,274.31 681.5,274.91 682,273.63 682.5,272.83 683,269.48 683.5,272.18 684,271.91 684.5,272.65 685,275.2 685.5,273.17 686,273.54 686.5,272.8 687,271.77 687.5,273.28 688,272.94 688.5,274.23 689,273.45 689.5,275.37 690,274.61 690.5,276.39 691,275.8 691.5,277.74 692,276.57 692.5,277.56 693,276.31 693.5,278.02 694,276.89 694.5,276.92 695,278.65 695.5,277.81 696,279.28 696.5,278.55 697,280.02 697.5,278.65 698,280.05 698.5,278.36 699,279.77 699.5,280.05 700,278.88 700.5,280.21 701,279.63 701.5,280.88 702,280.13 702.5,281.96 703,281.01 703.5,281.99 704,281 704.5,281.46 705,282.97 705.5,282.29 706,283.52 706.5,282.95 707,284.78 707.5,283.53 708,285.22 708.5,283.64 709,284 709.5,282.25 710,281.56 710.5,283.42 711,283.17 711.5,285.1 712,284.75 712.5,285.46 713,284.28 713.5,283.54 714,284.99 714.5,284.51 715,284.65 715.5,287.02 716,287.66 716.5,286.9 717,287.45 717.5,289.49 718,289.02 718.5,291.33 719,291.9 719.5,291.02 720,292.5"/>
<polyline stroke="#191970" points="100,442.5 720,442.5"/>
<polyline stroke="#00ffff" points="100,463.5 276.8,463.5 277.1,449.5 281.4,449.5 281.7,463.5 720,463.5"/>
<polyline stroke="#ff0000" points="100.3,498.2 100.6,470.5 104,470.5 104.7,484.5 116.2,484.5 116.9,470.5 122.2,470.5 122.8,484.5 134,484.5 134.7,470.5 138.2,470.5 138.8,484.5 153,484.5 153.7,470.5 157.2,470.5 157.8,484.5 174.6,484.5 175.3,470.5 179,470.5 179.6,484.5 201,484.5 201.7,470.5 205,470.5 205.6,484.5 235.2,484.5 235.9,470.5 239.4,470.5 240,484.5 284,484.5 284.7,470.5 287.8,470.5 288.4,484.5 319,484.5 319.7,470.5 322.6,470.5 323.2,484.5 342,484.5 342.7,470.5 345.8,470.5 346.4,484.5 359,484.5 359.7,470.5 363,470.5 363.6,484.5 377.6,484.5 378.3,470.5 381.4,470.5 382,484.5 402.2,484.5 402.9,470.5 406.4,470.5 407,484.5 422.2,484.5 422.9,470.5 428.4,470.5 429,484.5 448.6,484.5 449.3,470.5 453.2,470.5 453.8,484.5 466.6,484.5 467.3,470.5 471.8,470.5 472.4,484.5 484.2,484.5 484.9,470.5 488.4,470.5 489,484.5 507.6,484.5 508.3,470.5 511.4,470.5 512,484.5 522.6,484.5 523.3,470.5 528.2,470.5 528.8,484.5 540,484.5 540.7,470.5 544.4,470.5 545,484.5 560.2,484.5 560.9,470.5 564.2,470.5 564.8,484.5 583.8,484.5 584.5,470.5 588.6,470.5 589.2,484.5 618,484.5 618.7,470.5 622,470.5 622.6,484.5 645.1,484.5 645.8,470.5 649,470.5 649.6,484.5 676.5,484.5 677.2,470.5 680.8,470.5 681.4,484.5 710.7,484.5 711.4,470.5 715.6,470.5 716.2,484.5 720,484.5"/>
</g>
<path d="M152.5,540.5v-5.5M152.5,60.5v6.1M290.5,540.5v-5.5M290.5,60.5v6.1M428.5,540.5v-5.5M428.5,60.5v6.1M566.5,540.5v-5.5M566.5,60.5v6.1M704.5,540.5v-5.5M704.5,60.5v6.1M100.5,540.50h6.1M720.5,540.50h-5.4M100.5,470.50h6.1M720.5,470.50h-5.4M100.5,400.50h6.1M720.5,400.50h-5.4M100.5,331.50h6.1M720.5,331.50h-5.4M100.5,261.50h6.1M720.5,261.50h-5.4M100.5,192.50h6.1M720.5,192.50h-5.4M100.5,122.50h6.1M720.5,122.50h-5.4" stroke="#000" stroke-width="0.85" fill="none"/>
<rect x="112.5" y="69.5" width="149.0" height="121.0" fill="#fff" stroke="#000" stroke-width="1"/>
<line x1="127" y1="85.20" x2="158.6" y2="85.20" stroke="#000000" stroke-width="0.8"/>
<line x1="127" y1="100.18" x2="158.6" y2="100.18" stroke="#0000ff" stroke-width="0.8"/>
<line x1="127" y1="115.17" x2="158.6" y2="115.17" stroke="#ff0000" stroke-width="0.8"/>
<line x1="127" y1="130.15" x2="158.6" y2="130.15" stroke="#008000" stroke-width="0.8"/>
<line x1="127" y1="145.13" x2="158.6" y2="145.13" stroke="#191970" stroke-width="0.8"/>
<line x1="127" y1="160.12" x2="158.6" y2="160.12" stroke="#00ffff" stroke-width="0.8"/>
<line x1="127" y1="175.10" x2="158.6" y2="175.10" stroke="#ff0000" stroke-width="0.8"/>
<text x="300.89" y="44.9" font-size="19.8" font-family="'DejaVu Sans','Liberation Sans',sans-serif" textLength="219.28" lengthAdjust="spacing">APOLLO Temperatures</text>
<text x="130.58" y="556" font-size="16.67" font-family="'DejaVu Sans','Liberation Sans',sans-serif" textLength="45.99" lengthAdjust="spacing">15:00</text>
<text x="268.34" y="556" font-size="16.67" font-family="'DejaVu Sans','Liberation Sans',sans-serif" textLength="46.26" lengthAdjust="spacing">23:00</text>
<text x="406.36" y="556" font-size="16.67" font-family="'DejaVu Sans','Liberation Sans',sans-serif" textLength="45.92" lengthAdjust="spacing">07:00</text>
<text x="544.81" y="556" font-size="16.67" font-family="'DejaVu Sans','Liberation Sans',sans-serif" textLength="45.31" lengthAdjust="spacing">15:00</text>
<text x="681.44" y="556" font-size="16.67" font-family="'DejaVu Sans','Liberation Sans',sans-serif" textLength="45.81" lengthAdjust="spacing">23:00</text>
<text x="124.00" y="573" font-size="16.67" font-family="'DejaVu Sans','Liberation Sans',sans-serif" textLength="58.65" lengthAdjust="spacing">Nov 02</text>
<text x="262.03" y="573" font-size="16.67" font-family="'DejaVu Sans','Liberation Sans',sans-serif" textLength="58.23" lengthAdjust="spacing">Nov 02</text>
<text x="400.06" y="573" font-size="16.67" font-family="'DejaVu Sans','Liberation Sans',sans-serif" textLength="58.75" lengthAdjust="spacing">Nov 03</text>
<text x="536.99" y="573" font-size="16.67" font-family="'DejaVu Sans','Liberation Sans',sans-serif" textLength="58.45" lengthAdjust="spacing">Nov 03</text>
<text x="675.06" y="573" font-size="16.67" font-family="'DejaVu Sans','Liberation Sans',sans-serif" textLength="58.75" lengthAdjust="spacing">Nov 03</text>
<text x="362.53" y="591.7" font-size="16.67" font-family="'DejaVu Sans','Liberation Sans',sans-serif" textLength="95.18" lengthAdjust="spacing">Date (GMT)</text>
<text transform="translate(68.8,364.56) rotate(-90)" x="0" y="0" font-size="16.67" font-family="'DejaVu Sans','Liberation Sans',sans-serif" textLength="129.53" lengthAdjust="spacing">Temperature (C)</text>
<text x="75.36" y="126.8" font-size="16.67" font-family="'DejaVu Sans','Liberation Sans',sans-serif">25</text>
<text x="75.19" y="196.8" font-size="16.67" font-family="'DejaVu Sans','Liberation Sans',sans-serif">20</text>
<text x="76.54" y="265.9" font-size="16.67" font-family="'DejaVu Sans','Liberation Sans',sans-serif">15</text>
<text x="75.86" y="335.9" font-size="16.67" font-family="'DejaVu Sans','Liberation Sans',sans-serif">10</text>
<text x="86.19" y="404.8" font-size="16.67" font-family="'DejaVu Sans','Liberation Sans',sans-serif">5</text>
<text x="85.69" y="474.8" font-size="16.67" font-family="'DejaVu Sans','Liberation Sans',sans-serif">0</text>
<text x="80.57" y="545.0" font-size="16.67" font-family="'DejaVu Sans','Liberation Sans',sans-serif">-5</text>
<text x="169.06" y="88.7" font-size="13.9" font-family="'DejaVu Sans','Liberation Sans',sans-serif" textLength="55.92" lengthAdjust="spacing">Utah Air</text>
<text x="169.55" y="103.4" font-size="13.9" font-family="'DejaVu Sans','Liberation Sans',sans-serif" textLength="78.36" lengthAdjust="spacing">Cabinet Air</text>
<text x="170.17" y="118.5" font-size="13.9" font-family="'DejaVu Sans','Liberation Sans',sans-serif" textLength="44.79" lengthAdjust="spacing">ILE Air</text>
<text x="170.19" y="133.0" font-size="13.9" font-family="'DejaVu Sans','Liberation Sans',sans-serif" textLength="66.79" lengthAdjust="spacing">Dome Air</text>
<text x="169.85" y="149.0" font-size="13.9" font-family="'DejaVu Sans','Liberation Sans',sans-serif" textLength="56.04" lengthAdjust="spacing">ILE cool</text>
<text x="169.06" y="163.8" font-size="13.9" font-family="'DejaVu Sans','Liberation Sans',sans-serif" textLength="66.80" lengthAdjust="spacing">Utah cool</text>
<text x="169.06" y="178.9" font-size="13.9" font-family="'DejaVu Sans','Liberation Sans',sans-serif" textLength="67.47" lengthAdjust="spacing">Utah heat</text>
</svg>
</body></html>
